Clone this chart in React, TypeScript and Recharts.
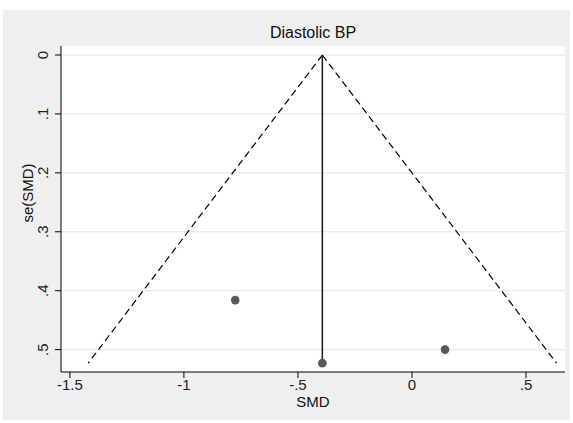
import {
  ComposedChart,
  Line,
  Scatter,
  XAxis,
  YAxis,
  CartesianGrid,
  Label,
} from "recharts";

// study estimates
const studySmd = [-0.775, -0.393, 0.145];
const studySe = [0.416, 0.523, 0.5];

// pooled estimate and pseudo 95% limits at the largest se
const pooledLine = [
  { x: -0.393, y: 0 },
  { x: -0.393, y: 0.523 },
];
const leftLimit = [
  { x: -0.393, y: 0 },
  { x: -1.42, y: 0.523 },
];
const rightLimit = [
  { x: -0.393, y: 0 },
  { x: 0.634, y: 0.523 },
];

const xTicks = [-1.5, -1, -0.5, 0, 0.5];
const yTicks = [0, 0.1, 0.2, 0.3, 0.4, 0.5];

const points = studySmd.map((x, i) => ({ x, y: studySe[i] }));

const FONT = "'Liberation Sans', Arial, sans-serif";

// stata style numbers: .5, -.5, 0
const fmt = (v: number) => {
  if (v === 0) return "0";
  const s = String(v);
  return s.replace(/^(-?)0\./, "$1.");
};

const YTick = (props: any) => {
  const { x, y, payload } = props;
  return (
    <text
      x={x - 5}
      y={y}
      transform={`rotate(-90 ${x - 5} ${y})`}
      textAnchor="middle"
      fontSize={15}
      fontFamily={FONT}
      fill="#222"
    >
      {fmt(payload.value)}
    </text>
  );
};

const XTick = (props: any) => {
  const { x, y, payload } = props;
  return (
    <text
      x={x}
      y={y + 10}
      textAnchor="middle"
      fontSize={15}
      fontFamily={FONT}
      fill="#222"
    >
      {fmt(payload.value)}
    </text>
  );
};

export default function App() {
  return (
    <div
      style={{
        position: "absolute",
        left: 0,
        top: 0,
        width: 573,
        height: 423,
        background: "#fff",
      }}
    >
      <div
        style={{
          position: "absolute",
          left: 3,
          top: 10,
          width: 567,
          height: 410,
          background: "#efefef",
        }}
      />
      <div
        style={{
          position: "absolute",
          left: 61,
          width: 504,
          top: 24,
          textAlign: "center",
          fontFamily: FONT,
          fontSize: 16,
          color: "#111",
        }}
      >
        Diastolic BP
      </div>
      <div style={{ position: "absolute", left: 0, top: 0 }}>
        <ComposedChart
          width={573}
          height={423}
          margin={{ top: 46, right: 8, bottom: 0, left: 0 }}
        >
          <CartesianGrid
            vertical={false}
            fill="#fff"
            stroke="#e4e4e4"
            horizontalValues={yTicks}
          />
          <XAxis
            type="number"
            dataKey="x"
            domain={[-1.539, 0.671]}
            ticks={xTicks}
            allowDataOverflow
            height={51}
            tickSize={6}
            tick={<XTick />}
            stroke="#000"
            tickLine={{ stroke: "#000" }}
          >
            <Label
              content={(p: any) => {
                const vb = p.viewBox;
                return (
                  <text
                    x={vb.x + vb.width / 2}
                    y={vb.y + 35}
                    textAnchor="middle"
                    fontSize={15}
                    fontFamily={FONT}
                    fill="#111"
                  >
                    SMD
                  </text>
                );
              }}
            />
          </XAxis>
          <YAxis
            type="number"
            dataKey="y"
            domain={[-0.0153, 0.538]}
            reversed
            ticks={yTicks}
            allowDataOverflow
            width={61}
            tickSize={6}
            tickMargin={2}
            tick={<YTick />}
            stroke="#000"
            tickLine={{ stroke: "#000" }}
          >
            <Label
              content={(p: any) => {
                const vb = p.viewBox;
                const cx = vb.x + 33;
                const cy = vb.y + vb.height / 2 - 16;
                return (
                  <text
                    x={cx}
                    y={cy}
                    transform={`rotate(-90 ${cx} ${cy})`}
                    textAnchor="middle"
                    fontSize={15}
                    fontFamily={FONT}
                    fill="#111"
                  >
                    se(SMD)
                  </text>
                );
              }}
            />
          </YAxis>
          <Line
            data={leftLimit}
            dataKey="y"
            stroke="#000"
            strokeWidth={1.2}
            strokeDasharray="7 4"
            dot={false}
            activeDot={false}
            isAnimationActive={false}
          />
          <Line
            data={rightLimit}
            dataKey="y"
            stroke="#000"
            strokeWidth={1.2}
            strokeDasharray="7 4"
            dot={false}
            activeDot={false}
            isAnimationActive={false}
          />
          <Line
            data={pooledLine}
            dataKey="y"
            stroke="#1a1a1a"
            strokeWidth={1.5}
            dot={false}
            activeDot={false}
            isAnimationActive={false}
          />
          <Scatter
            data={points}
            fill="#585858"
            shape={(p: any) => <circle cx={p.cx} cy={p.cy} r={4.3} fill="#585858" />}
            isAnimationActive={false}
          />
        </ComposedChart>
      </div>
    </div>
  );
}
